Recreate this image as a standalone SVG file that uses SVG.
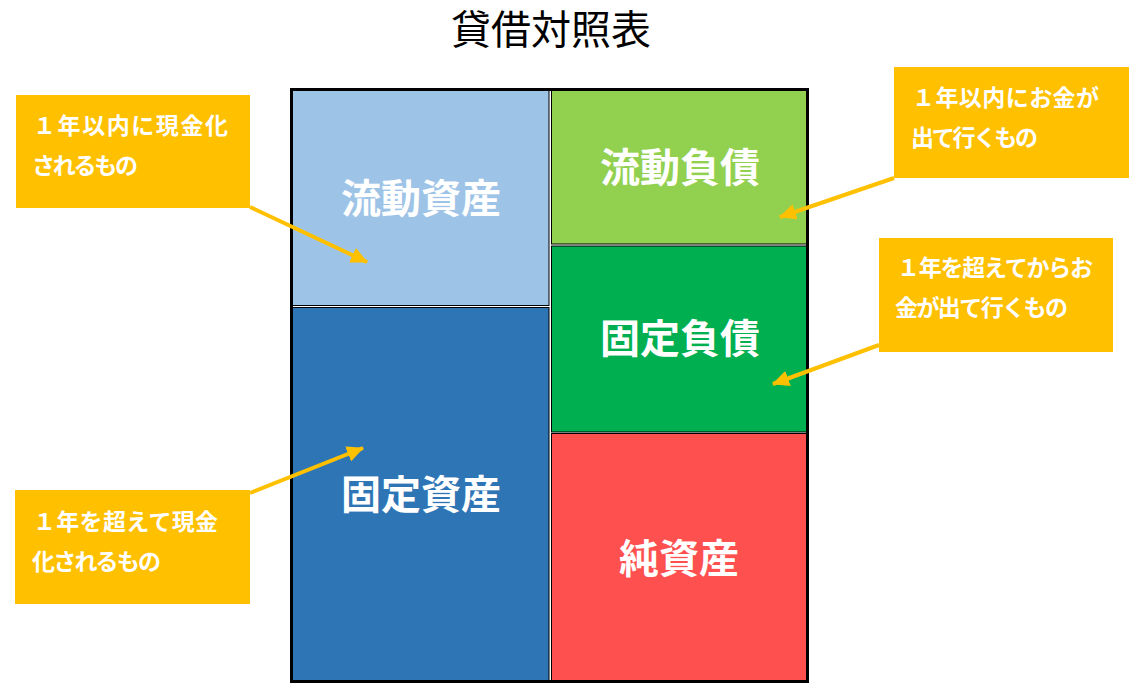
<svg xmlns="http://www.w3.org/2000/svg" width="1142" height="689" viewBox="0 0 1142 689">
<style>
.box{stroke:#000;stroke-width:1}
.lbl{font-family:"Noto Sans CJK JP","Noto Sans CJK SC",sans-serif;font-weight:bold;font-size:40px;fill:#fff;text-anchor:middle}
.co{fill:#FFC000}
.ct{font-family:"Noto Sans CJK JP","Noto Sans CJK SC",sans-serif;font-weight:bold;font-size:23px;fill:#fff}
.title{font-family:"Noto Sans CJK JP","Noto Sans CJK SC",sans-serif;font-size:40px;fill:#000;text-anchor:middle}
.arr{stroke:#FFC000;stroke-width:4;fill:none;marker-end:url(#ah)}
</style>
<defs>
<marker id="ah" markerUnits="userSpaceOnUse" markerWidth="18" markerHeight="16" refX="16" refY="8" orient="auto">
<path d="M0,0 L17,8 L0,16 Z" fill="#FFC000"/>
</marker>
</defs>
<rect width="1142" height="689" fill="#fff"/>
<text class="title" x="551" y="44">貸借対照表</text>

<g id="current-assets">
<rect class="box" x="291.5" y="89.5" width="257.5" height="216" fill="#9DC3E6"/>
<text class="lbl" x="421" y="213">流動資産</text>
</g>
<g id="fixed-assets">
<rect class="box" x="291.5" y="307.5" width="257.5" height="374" fill="#2E75B6"/>
<text class="lbl" x="421" y="509">固定資産</text>
</g>
<g id="current-liabilities">
<rect class="box" x="551.5" y="89.5" width="256" height="154.5" fill="#92D050"/>
<text class="lbl" x="680" y="182">流動負債</text>
</g>
<g id="fixed-liabilities">
<rect class="box" x="551.5" y="246" width="256" height="186" fill="#00B050"/>
<text class="lbl" x="680" y="353">固定負債</text>
</g>
<g id="net-assets">
<rect class="box" x="551.5" y="433.5" width="256" height="248" fill="#FF5050"/>
<text class="lbl" x="679" y="573">純資産</text>
</g>
<rect x="291.5" y="89.5" width="516" height="592" fill="none" stroke="#000" stroke-width="3"/>

<g id="note-current-assets">
<rect class="co" x="16" y="95" width="234" height="113"/>
<text class="ct" x="33" y="134" textLength="195" lengthAdjust="spacing">１年以内に現金化</text>
<text class="ct" x="32" y="174" textLength="106" lengthAdjust="spacing">されるもの</text>
</g>
<g id="note-current-liabilities">
<rect class="co" x="894" y="67" width="235" height="111"/>
<text class="ct" x="912" y="106" textLength="187" lengthAdjust="spacing">１年以内にお金が</text>
<text class="ct" x="911" y="146" textLength="127" lengthAdjust="spacing">出て行くもの</text>
</g>
<g id="note-fixed-liabilities">
<rect class="co" x="879" y="238" width="234" height="114"/>
<text class="ct" x="897" y="276" textLength="196" lengthAdjust="spacing">１年を超えてからお</text>
<text class="ct" x="895" y="316" textLength="173" lengthAdjust="spacing">金が出て行くもの</text>
</g>
<g id="note-fixed-assets">
<rect class="co" x="15" y="490" width="235" height="114"/>
<text class="ct" x="33" y="530" textLength="185" lengthAdjust="spacing">１年を超えて現金</text>
<text class="ct" x="32" y="570" textLength="129" lengthAdjust="spacing">化されるもの</text>
</g>

<g id="connectors">
<line class="arr" x1="250" y1="207" x2="367" y2="262"/>
<line class="arr" x1="894" y1="178" x2="780" y2="217"/>
<line class="arr" x1="879" y1="345" x2="773" y2="384"/>
<line class="arr" x1="250" y1="493" x2="363" y2="448"/>
</g>
</svg>
